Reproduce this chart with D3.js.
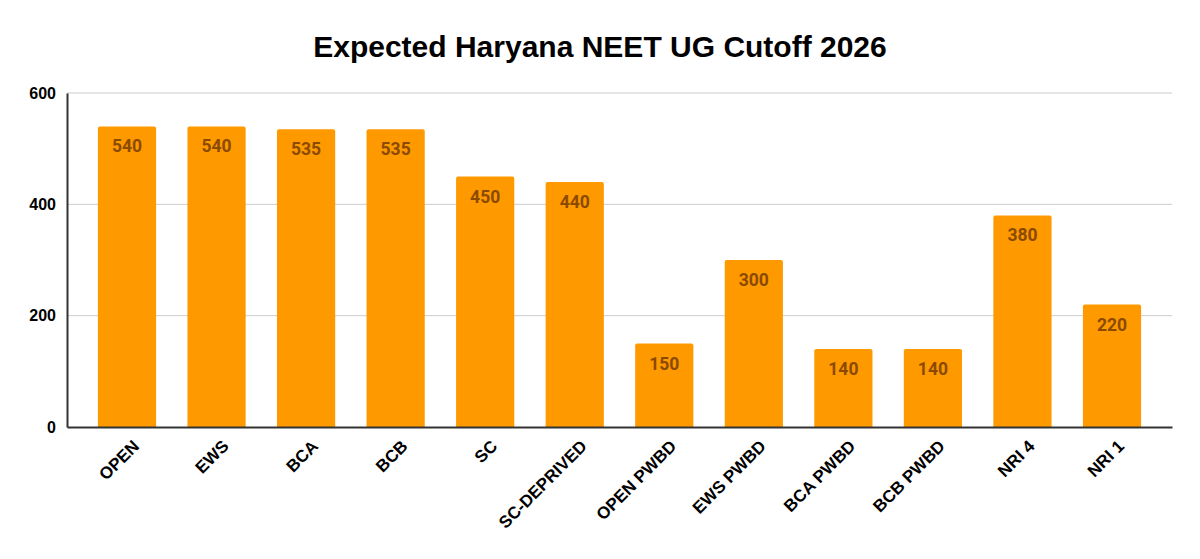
<!DOCTYPE html>
<html>
<head>
<meta charset="utf-8">
<script src="https://cdn.jsdelivr.net/npm/d3@7"></script>
<style>
  body { margin: 0; background: #fff; }
</style>
</head>
<body>
<div id="chart"></div>
<script>
const categories = ["OPEN", "EWS", "BCA", "BCB", "SC", "SC-DEPRIVED", "OPEN PWBD", "EWS PWBD", "BCA PWBD", "BCB PWBD", "NRI 4", "NRI 1"];
const cutoffs = [540, 540, 535, 535, 450, 440, 150, 300, 140, 140, 380, 220];
const yTicks = [0, 200, 400, 600];

const width = 1200, height = 559;
const margin = { top: 93, right: 28, bottom: 132, left: 67 };
const graphWidth = width - margin.left - margin.right;
const graphHeight = height - margin.top - margin.bottom;

const svg = d3.select("#chart").append("svg")
    .attr("width", width)
    .attr("height", height);

const graph = svg.append("g")
    .attr("transform", `translate(${margin.left},${margin.top})`);

const x = d3.scaleBand()
    .domain(categories)
    .range([0, graphWidth])
    .paddingInner(0.35)
    .paddingOuter(0.345);

const y = d3.scaleLinear()
    .domain([0, 600])
    .range([graphHeight, 0]);

// gridlines
graph.selectAll("line.grid")
    .data(yTicks.filter(d => d > 0))
    .enter()
    .append("line")
    .attr("class", "grid")
    .attr("x1", 0)
    .attr("x2", graphWidth)
    .attr("y1", d => y(d))
    .attr("y2", d => y(d))
    .attr("stroke", "#cccccc")
    .attr("stroke-width", 1);

// bars with slightly rounded tops
const r = 2;
graph.selectAll("path.bar")
    .data(cutoffs)
    .enter()
    .append("path")
    .attr("class", "bar")
    .attr("fill", "#ff9900")
    .attr("d", (d, i) => {
        const x0 = x(categories[i]), w = x.bandwidth();
        const y0 = y(d), yb = y(0);
        return `M${x0},${yb} L${x0},${y0 + r} Q${x0},${y0} ${x0 + r},${y0} L${x0 + w - r},${y0} Q${x0 + w},${y0} ${x0 + w},${y0 + r} L${x0 + w},${yb} Z`;
    });

// value labels
graph.selectAll("text.val")
    .data(cutoffs)
    .enter()
    .append("text")
    .attr("class", "val")
    .attr("x", (d, i) => x(categories[i]) + x.bandwidth() / 2)
    .attr("y", d => y(d) + 26)
    .attr("text-anchor", "middle")
    .style("font-family", "Roboto, sans-serif")
    .style("font-weight", "bold")
    .style("font-size", "17.5px")
    .style("fill", "#8a4a00")
    .text(d => d);

// axes
const yAxis = d3.axisLeft(y).tickValues(yTicks).tickSize(0).tickPadding(11);
const yAxisGroup = graph.append("g").call(yAxis);
yAxisGroup.select(".domain").attr("stroke", "#333").attr("stroke-width", 2);
yAxisGroup.selectAll("text")
    .style("font-family", "'Liberation Sans', Arial, sans-serif")
    .style("font-weight", "bold")
    .style("font-size", "16px")
    .style("fill", "#000");

const xAxis = d3.axisBottom(x).tickSize(0).tickPadding(10);
const xAxisGroup = graph.append("g")
    .attr("transform", `translate(0,${graphHeight})`)
    .call(xAxis);
xAxisGroup.select(".domain").attr("stroke", "#333").attr("stroke-width", 2);
xAxisGroup.selectAll("text")
    .style("font-family", "'Liberation Sans', Arial, sans-serif")
    .style("font-weight", "bold")
    .style("font-size", "17px")
    .style("fill", "#000")
    .attr("text-anchor", "end")
    .attr("dx", "-5px")
    .attr("dy", "0.8em")
    .attr("transform", "rotate(-45)");

// title
svg.append("text")
    .attr("x", width / 2)
    .attr("y", 57)
    .attr("text-anchor", "middle")
    .style("font-family", "'Liberation Sans', Arial, sans-serif")
    .style("font-weight", "bold")
    .style("font-size", "30px")
    .style("fill", "#000")
    .text("Expected Haryana NEET UG Cutoff 2026");
</script>
</body>
</html>
